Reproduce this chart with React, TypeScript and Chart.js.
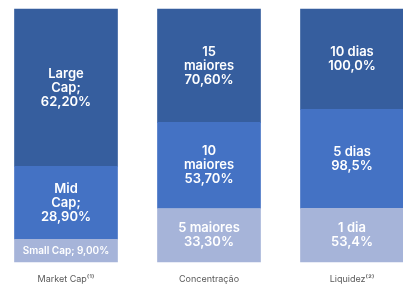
import React, { useEffect, useRef } from "react";
import { Chart, registerables } from "chart.js";

Chart.register(...registerables);

const categories = ["Market Cap⁽¹⁾", "Concentração", "Liquidez⁽²⁾"];
const bottomValues = [9.0, 33.3, 53.4];
const middleValues = [28.9, 53.7, 98.5];
const topValues = [62.2, 70.6, 100.0];

const bottomLabels = [["Small Cap; 9,00%"], ["5 maiores", "33,30%"], ["1 dia", "53,4%"]];
const middleLabels = [["Mid", "Cap;", "28,90%"], ["10", "maiores", "53,70%"], ["5 dias", "98,5%"]];
const topLabels = [["Large", "Cap;", "62,20%"], ["15", "maiores", "70,60%"], ["10 dias", "100,0%"]];

const colors = ["#a6b4d9", "#4472c4", "#365e9e"];

export default function App() {
  const ref = useRef<HTMLCanvasElement | null>(null);

  useEffect(() => {
    if (!ref.current) return;
    const totals = categories.map((_, i) => bottomValues[i] + middleValues[i] + topValues[i]);
    const norm = (arr: number[]) => arr.map((v, i) => (v / totals[i]) * 100);
    const labelSets = [bottomLabels, middleLabels, topLabels];

    const labelPlugin = {
      id: "segLabels",
      afterDatasetsDraw(chart: any) {
        const ctx = chart.ctx;
        ctx.save();
        ctx.fillStyle = "#ffffff";
        ctx.textAlign = "center";
        ctx.textBaseline = "middle";
        chart.data.datasets.forEach((_: any, di: number) => {
          const meta = chart.getDatasetMeta(di);
          meta.data.forEach((el: any, i: number) => {
            const { x, y, base } = el.getProps(["x", "y", "base"], true);
            const lines = labelSets[di][i];
            const small = di === 0 && i === 0;
            const size = small ? 10 : 13;
            const lh = small ? 11 : 14;
            ctx.font = `600 ${size}px Inter, "Noto Sans", sans-serif`;
            const cy = (y + base) / 2;
            const start = cy - ((lines.length - 1) * lh) / 2;
            lines.forEach((t: string, k: number) => {
              ctx.fillText(t, x, start + k * lh);
            });
          });
        });
        ctx.restore();
      },
    };

    const chart = new Chart(ref.current, {
      type: "bar",
      data: {
        labels: categories,
        datasets: [
          { data: norm(bottomValues), backgroundColor: colors[0], barThickness: 103, clip: false as any },
          { data: norm(middleValues), backgroundColor: colors[1], barThickness: 103, clip: false as any },
          { data: norm(topValues), backgroundColor: colors[2], barThickness: 103, clip: false as any },
        ],
      },
      options: {
        animation: false,
        responsive: true,
        maintainAspectRatio: false,
        layout: { padding: { left: 66, right: 51, top: 9, bottom: 0 } },
        plugins: { legend: { display: false }, tooltip: { enabled: false } },
        scales: {
          x: {
            stacked: true,
            offset: false,
            grid: { display: false, drawTicks: false },
            border: { display: false },
            afterFit: (scale: any) => {
              scale.height = 24;
            },
            ticks: {
              padding: 12,
              color: "#595959",
              font: { size: 9, family: "Inter, 'Noto Sans', sans-serif" },
              maxRotation: 0,
              autoSkip: false,
            },
          },
          y: { stacked: true, display: false, min: 0, max: 100 },
        },
      },
      plugins: [labelPlugin],
    });
    return () => chart.destroy();
  }, []);

  return (
    <div style={{ position: "fixed", left: 0, top: 0, width: 403, height: 286 }}>
      <canvas ref={ref} />
    </div>
  );
}
